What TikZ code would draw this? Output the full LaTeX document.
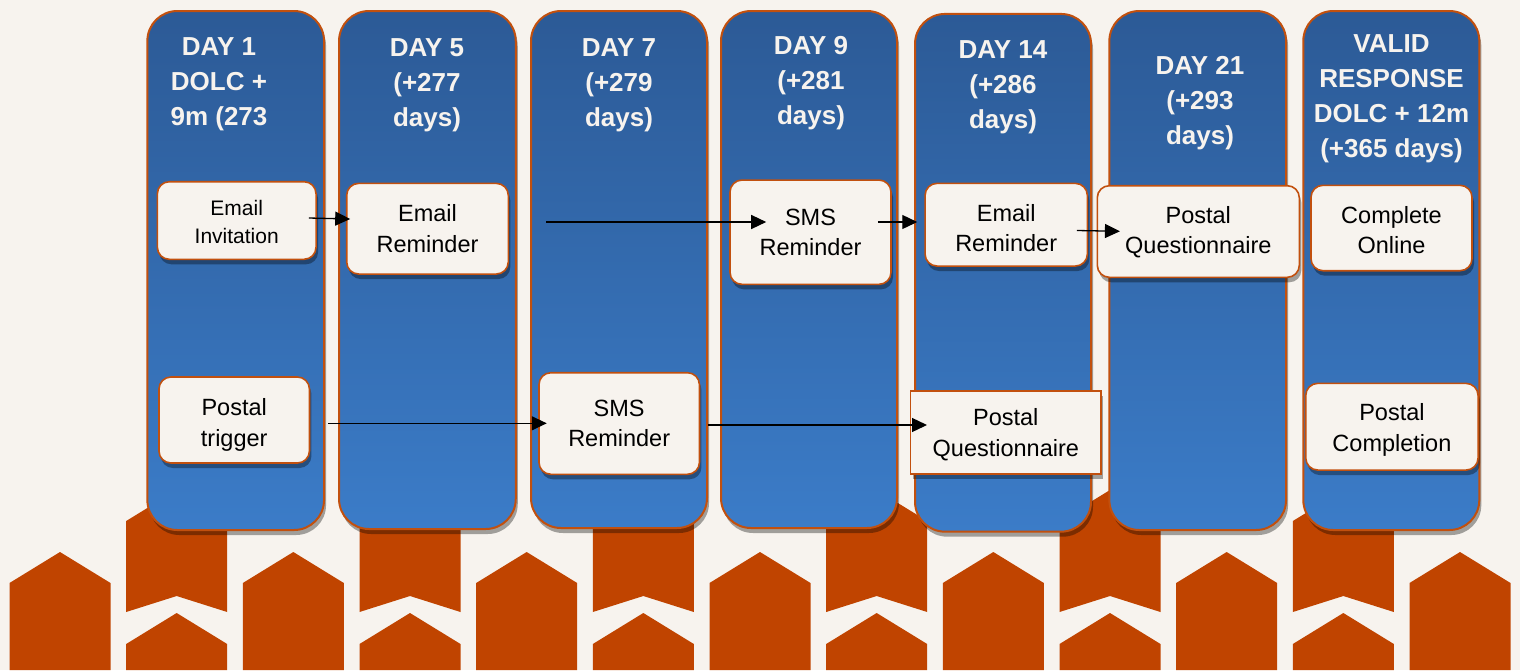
\documentclass[tikz,border=0pt]{standalone}
\usepackage{fontspec}
\setmainfont{Liberation Sans}
\usetikzlibrary{arrows.meta,shadows}
\definecolor{bg}{HTML}{F7F3EE}
\definecolor{rust}{HTML}{C04400}
\definecolor{edgec}{HTML}{C2500E}
\definecolor{btop}{HTML}{2C5A96}
\definecolor{bbot}{HTML}{3B7CC8}
\definecolor{hdrc}{HTML}{F7F3EE}
\newcommand{\lift}[1]{\rule{0pt}{#1pt}}
\begin{document}
\begin{tikzpicture}[x=1pt,y=-1pt,
  colbox/.style={rectangle, rounded corners=30pt, draw=edgec, line width=2pt,
    top color=btop, bottom color=bbot, inner sep=0pt,
    drop shadow={shadow xshift=2pt, shadow yshift=-5pt, fill=black, opacity=0.35}},
  stepbox/.style={rectangle, rounded corners=12pt, draw=edgec, line width=1.6pt,
    fill=bg, align=center, text=black, inner sep=0pt,
    font=\fontsize{23.5}{30.5}\selectfont,
    drop shadow={shadow xshift=2pt, shadow yshift=-5pt, fill=black, opacity=0.35}},
  hdr/.style={text=hdrc, font=\bfseries\fontsize{26}{35}\selectfont, align=center, inner sep=0pt},
  arr/.style={draw=black, line width=1.3pt, -{Triangle[length=15pt,width=14pt]}}
]
\useasboundingbox (0,0) rectangle (1520,670);
\fill[bg] (0,0) rectangle (1520,670);

% chevron background pattern
\foreach \cx in {60,293.33,526.67,760,993.33,1226.67,1460} {
  \fill[rust] (\cx-50.5,670) -- (\cx-50.5,583) -- (\cx,552) -- (\cx+50.5,583) -- (\cx+50.5,670) -- cycle;
}
\foreach \cx in {176.67,410,643.33,876.67,1110,1343.33} {
  \fill[rust] (\cx-50.5,612) -- (\cx-50.5,521) -- (\cx,490) -- (\cx+50.5,521) -- (\cx+50.5,612) -- (\cx,596) -- cycle;
  \fill[rust] (\cx-50.5,670) -- (\cx-50.5,644) -- (\cx,613) -- (\cx+50.5,644) -- (\cx+50.5,670) -- cycle;
}

% columns
\node[colbox, minimum width=176.7pt, minimum height=519pt] (c1) at (235.7,270.5) {};
\node[colbox, minimum width=176.7pt, minimum height=518pt] (c2) at (427.4,270) {};
\node[colbox, minimum width=176pt, minimum height=517pt] (c3) at (619,269.5) {};
\node[colbox, minimum width=176pt, minimum height=517pt] (c4) at (809,269.5) {};
\node[colbox, minimum width=176pt, minimum height=517.7pt] (c5) at (1003,272.8) {};
\node[colbox, minimum width=176.7pt, minimum height=519pt] (c6) at (1197.7,270.5) {};
\node[colbox, minimum width=176pt, minimum height=519pt] (c7) at (1391.3,270.5) {};

% headers
\node[hdr] (h1) at (219,84.6) {DAY 1\\DOLC +\\9m (273};
\node[hdr] (h2) at (427,85.5) {DAY 5\\(+277\\days)};
\node[hdr] (h3) at (619,85.5) {DAY 7\\(+279\\days)};
\node[hdr] (h4) at (811,83.5) {DAY 9\\(+281\\days)};
\node[hdr] (h5) at (1003,87) {DAY 14\\(+286\\days)};
\node[hdr] (h6) at (1200,103.6) {DAY 21\\(+293\\days)};
\node[hdr] (h7) at (1391.5,98.3) {VALID\\RESPONSE\\DOLC + 12m\\(+365 days)};

% step boxes
\node[stepbox, minimum width=158.7pt, minimum height=77.6pt, font=\fontsize{21}{28}\selectfont] (einv) at (236.7,220.5) {\lift{19}Email\\Invitation};
\node[stepbox, minimum width=161.6pt, minimum height=90.7pt] (erem2) at (427.5,228.7) {Email\\Reminder};
\node[stepbox, minimum width=161pt, minimum height=104.3pt] (sms4) at (810.5,232.2) {SMS\\Reminder};
\node[stepbox, minimum width=162.3pt, minimum height=82.7pt] (erem5) at (1006.2,224.7) {\lift{23.8}Email\\Reminder};
\node[stepbox, minimum width=202pt, minimum height=91.6pt] (pq6) at (1198.3,231.5) {\lift{18.8}Postal\\Questionnaire};
\node[stepbox, minimum width=161pt, minimum height=85.4pt] (conl) at (1391.5,228) {\lift{20.8}Complete\\Online};
\node[stepbox, minimum width=150.5pt, minimum height=86pt] (ptrig) at (234.2,420) {\lift{26.8}Postal\\trigger};
\node[stepbox, minimum width=160.5pt, minimum height=101.6pt] (sms3) at (619.2,423.5) {SMS\\Reminder};
\node[stepbox, sharp corners, minimum width=190.4pt, minimum height=83.3pt] (pq5) at (1005.8,432.4) {\lift{21.8}Postal\\Questionnaire};
\node[stepbox, minimum width=172.3pt, minimum height=86.7pt] (pcomp) at (1391.9,426.7) {\lift{23.8}Postal\\Completion};

% connectors
\draw[arr] ([shift={(-8,-2.5)}]einv.east) -- ([shift={(4.3,-9.7)}]erem2.west);
\draw[arr] ([shift={(16,-47.5)}]c3.west) -- ([shift={(37,-10.2)}]sms4.west);
\draw[arr] ([shift={(-14,-10.2)}]sms4.east) -- ([shift={(-7,-2.7)}]erem5.west);
\draw[arr] ([shift={(-11.3,5.8)}]erem5.east) -- ([shift={(23.4,-0.2)}]pq6.west);
\draw[arr] ([shift={(18,3.3)}]ptrig.east) -- ([shift={(8.6,-0.2)}]sms3.west);
\draw[arr] ([shift={(8,1.5)}]sms3.east) -- ([shift={(17.2,-7.4)}]pq5.west);
\end{tikzpicture}
\end{document}
